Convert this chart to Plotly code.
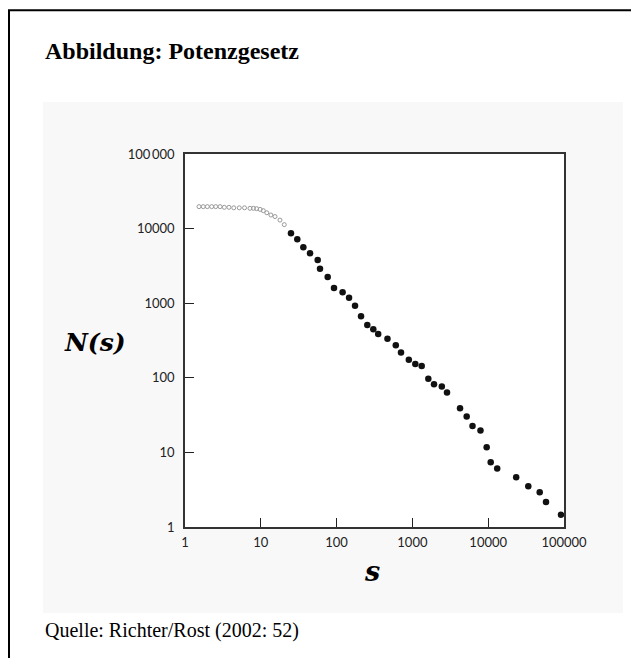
import plotly.graph_objects as go

# values
s_gray = [1.53, 1.74, 1.97, 2.25, 2.54, 2.9, 3.3, 3.8, 4.4, 5.2, 6.1,
          7.2, 8.0, 8.8, 9.8, 10.8, 12, 13.6, 15.4, 17.9, 20.4]
n_gray = [19700, 19700, 19700, 19700, 19700, 19700, 19300, 19300, 19000, 19000, 19000,
          18700, 18700, 18500, 18100, 17400, 16300, 15200, 14500, 13000, 11300]

s_black = [25.0, 30.3, 36.4, 44.6, 56.3, 60.4, 76.3, 92.4, 120, 146, 175, 210, 254,
           305, 354, 469, 604, 707, 897, 1092, 1327, 1622, 1928, 2443, 2860,
           4248, 5200, 6210, 7910, 9550, 10790, 13150, 23400, 33800, 47800,
           57900, 91300]
n_black = [8650, 7190, 5610, 4670, 3800, 2900, 2245, 1600, 1400, 1185, 925, 667, 510,
           447, 386, 334, 273, 218, 175, 153, 144, 97, 81.8, 76.4, 63.5,
           39, 30.3, 22.6, 19.7, 11.7, 7.39, 6.09, 4.64, 3.51, 2.92,
           2.16, 1.46]

tick_vals = [1, 10, 100, 1000, 10000, 100000]
x_tick_text = ["1", "10", "100", "1000", "10000", "100000"]
y_tick_text = ["1", "10", "100", "1000", "10000", "100\u2009000"]

OFF = 8  # the page body adds 8px around the figure
W, H = 639 - 2 * OFF, 666 - 2 * OFF
L, R, T, B = 185 - OFF, 564 - OFF, 154 - OFF, 527 - OFF


def px(x):
    return (x - OFF - L) / (R - L)


def py(y):
    return (B - (y - OFF)) / (B - T)


fig = go.Figure()
fig.add_trace(go.Scatter(
    x=s_gray, y=n_gray, mode="markers",
    marker=dict(symbol="circle-open", size=4, color="#9a9a9a", line=dict(width=1)),
    showlegend=False,
))
fig.add_trace(go.Scatter(
    x=s_black, y=n_black, mode="markers",
    marker=dict(symbol="circle", size=6.5, color="#111111"),
    showlegend=False,
))

axis_common = dict(
    type="log", range=[0, 5],
    tickvals=tick_vals,
    ticks="inside", ticklen=9, tickwidth=1.3, tickcolor="#222",
    showgrid=False, zeroline=False,
    showline=True, linecolor="#333", linewidth=1.5, mirror=True,
    tickfont=dict(family="Lato", size=13, color="#222"),
)
fig.update_xaxes(**axis_common, ticktext=x_tick_text, ticklabelstandoff=3)
fig.update_yaxes(**axis_common, ticktext=y_tick_text, ticklabelstandoff=6)

fig.update_layout(
    width=W, height=H,
    margin=dict(l=L, r=W - R, t=T, b=H - B),
    paper_bgcolor="white", plot_bgcolor="white",
    shapes=[
        # light scan background behind the original chart
        dict(type="rect", xref="paper", yref="paper", layer="below",
             x0=px(43), x1=px(623), y0=py(613), y1=py(102),
             fillcolor="#f8f8f8", line=dict(width=0)),
        dict(type="rect", xref="paper", yref="paper", layer="below",
             x0=0, x1=1, y0=0, y1=1, fillcolor="white", line=dict(width=0)),
        # page frame (left and top edges)
        dict(type="line", xref="paper", yref="paper",
             x0=px(9), x1=px(9), y0=py(680), y1=py(10.3),
             line=dict(color="black", width=2)),
        dict(type="line", xref="paper", yref="paper",
             x0=px(8), x1=px(650), y0=py(10.3), y1=py(10.3),
             line=dict(color="black", width=2)),
    ],
    annotations=[
        dict(text="<b>Abbildung: Potenzgesetz</b>", xref="paper", yref="paper",
             x=px(43), y=py(51), xanchor="left", yanchor="middle", showarrow=False,
             font=dict(family="Liberation Serif", size=24, color="black")),
        dict(text="Quelle: Richter/Rost (2002: 52)", xref="paper", yref="paper",
             x=px(43), y=py(630), xanchor="left", yanchor="middle", showarrow=False,
             font=dict(family="Liberation Serif", size=20, color="black")),
        dict(text="<b><i>N(s)</i></b>", xref="paper", yref="paper",
             x=px(95), y=py(342), xanchor="center", yanchor="middle", showarrow=False,
             font=dict(family="DejaVu Serif", size=25, color="black")),
        dict(text="<b><i>s</i></b>", xref="paper", yref="paper",
             x=px(372), y=py(571), xanchor="center", yanchor="middle", showarrow=False,
             font=dict(family="DejaVu Serif", size=27, color="black")),
    ],
)

fig.write_html("out.html", config={"displayModeBar": False})
